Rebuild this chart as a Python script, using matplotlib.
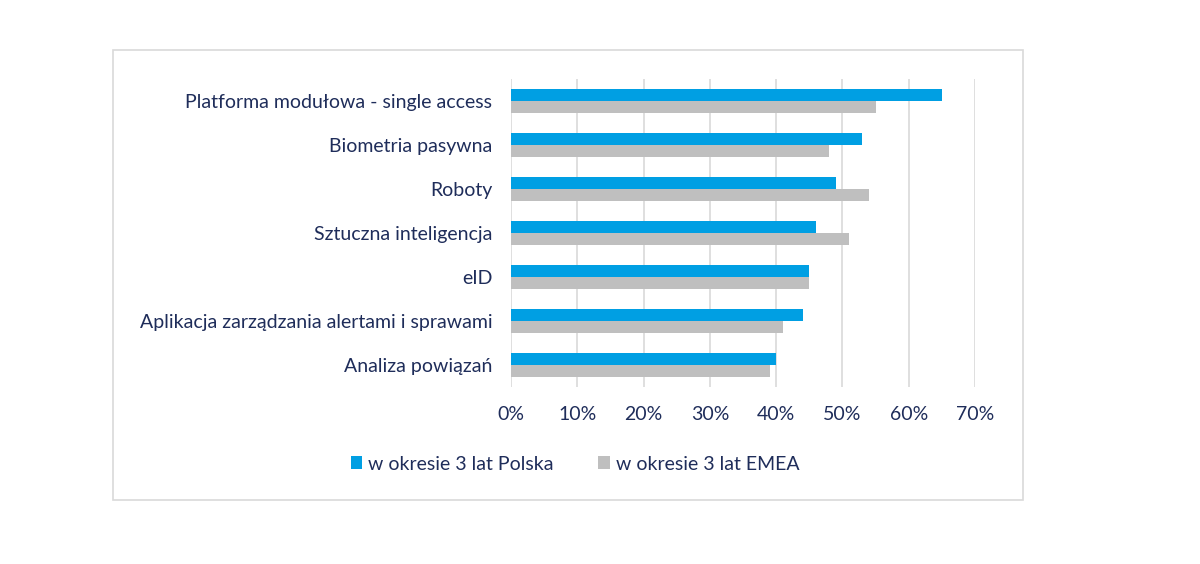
import matplotlib.pyplot as plt
from matplotlib.patches import Rectangle
import numpy as np

categories = [
    "Platforma modułowa - single access",
    "Biometria pasywna",
    "Roboty",
    "Sztuczna inteligencja",
    "eID",
    "Aplikacja zarządzania alertami i sprawami",
    "Analiza powiązań",
]
polska = [65, 53, 49, 46, 45, 44, 40]
emea = [55, 48, 54, 51, 45, 41, 39]
series_names = ["w okresie 3 lat Polska", "w okresie 3 lat EMEA"]
xticks = [0, 10, 20, 30, 40, 50, 60, 70]

blue = "#009fe3"
gray = "#bfbfbf"
text_col = "#1f2d5a"

plt.rcParams['font.family'] = ['Lato', 'DejaVu Sans']

fig = plt.figure(figsize=(12, 5.64), dpi=100)
W, H = 1200, 564

# outer chart frame
fig.patches.append(Rectangle((113 / W, 1 - 500 / H), (1023 - 113) / W, (500 - 50) / H,
                             transform=fig.transFigure, fill=False,
                             edgecolor="#d9d9d9", linewidth=1.2))

ax = fig.add_axes([511 / W, 1 - 387 / H, (975 - 511) / W, (387 - 79) / H])

y = np.arange(len(categories))
h = 0.27
ax.barh(y - h / 2, polska, height=h, color=blue, label=series_names[0], zorder=3)
ax.barh(y + h / 2, emea, height=h, color=gray, label=series_names[1], zorder=3)

ax.set_ylim(len(categories) - 0.5, -0.5)
ax.set_xlim(0, 70)
ax.set_xticks(xticks)
ax.set_xticklabels([f"{t}%" for t in xticks])
ax.set_yticks(y)
ax.set_yticklabels(categories)
ax.tick_params(axis='both', length=0, labelsize=14, colors=text_col)
ax.tick_params(axis='x', pad=14)
ax.tick_params(axis='y', pad=13.5)

ax.grid(axis='x', color="#d9d9d9", linewidth=1.2, zorder=0)
for s in ax.spines.values():
    s.set_visible(False)

handles, labels = ax.get_legend_handles_labels()
fig.legend(handles, labels, loc='center', bbox_to_anchor=(575 / W, 1 - 464 / H), ncol=2,
           frameon=False, fontsize=14, labelcolor=text_col, handlelength=0.6,
           handleheight=0.6, handletextpad=0.3, columnspacing=2.3)

fig.savefig("out.png", dpi=100, facecolor="white")
